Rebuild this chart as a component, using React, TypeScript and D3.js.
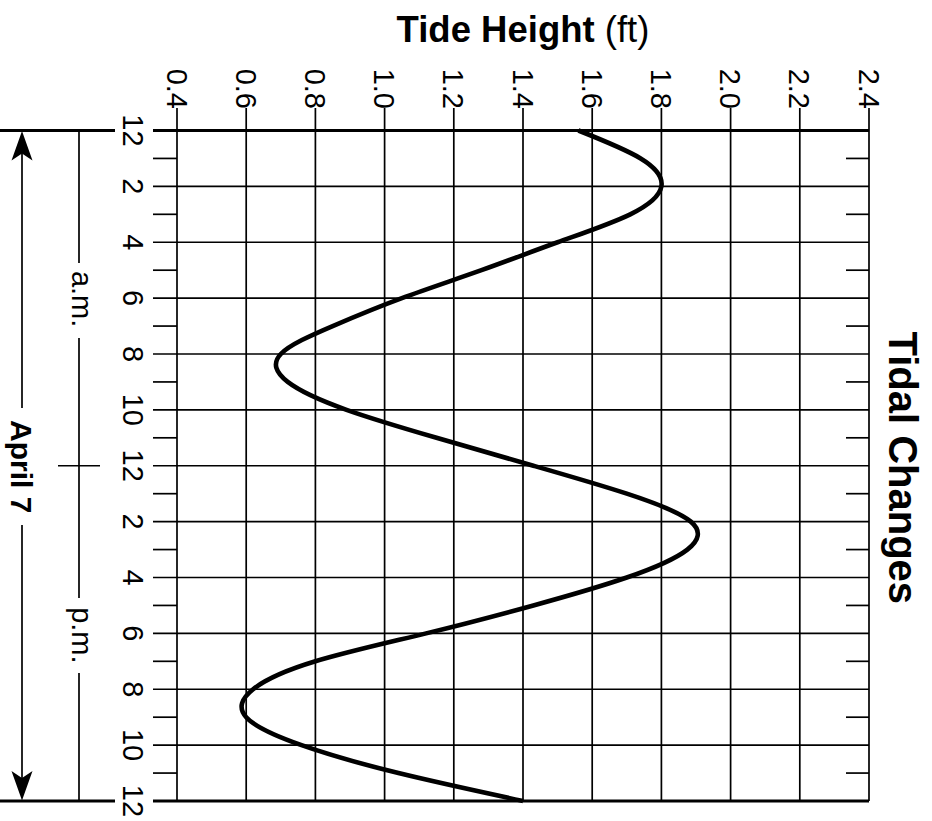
import React from "react";
import * as d3 from "d3";

// ---- data ----
const hours: number[] = [0, 1, 2, 3, 4, 5, 6, 7, 8, 9, 10, 11, 12, 13, 14, 15, 16, 17, 18, 19, 20, 21, 22, 23, 24];
const tideHeights: number[] = [1.56, 1.74, 1.8, 1.71, 1.5, 1.28, 1.05, 0.85, 0.7, 0.72, 0.89, 1.15, 1.43, 1.7, 1.885, 1.875, 1.7, 1.43, 1.12, 0.8, 0.62, 0.6, 0.76, 1.04, 1.4];
const heightTicks: number[] = [0.4, 0.6, 0.8, 1.0, 1.2, 1.4, 1.6, 1.8, 2.0, 2.2, 2.4];
const timeTickHours: number[] = [0, 2, 4, 6, 8, 10, 12, 14, 16, 18, 20, 22, 24];
const timeTickLabels: string[] = ["12", "2", "4", "6", "8", "10", "12", "2", "4", "6", "8", "10", "12"];
const chartTitle = "Tidal Changes";
const axisTitleBold = "Tide Height";
const axisTitleUnit = " (ft)";
const dateLabel = "April 7";
const amLabel = "a.m.";
const pmLabel = "p.m.";

const W = 932;
const H = 821;
const FONT = "'Liberation Sans', Arial, Helvetica, sans-serif";

export default function App() {
  const x = d3.scaleLinear().domain([0.4, 2.4]).range([177, 869]);
  const y = d3.scaleLinear().domain([0, 24]).range([130.5, 801]);

  const pts = hours.map((h, i) => ({ h: tideHeights[i], t: h }));
  const line = d3
    .line<{ h: number; t: number }>()
    .x((d) => x(d.h))
    .y((d) => y(d.t))
    .curve(d3.curveNatural);

  const left = x(0.4);
  const right = x(2.4);
  const tickLeft = 153;
  const tickTop = 108;
  const allHours = d3.range(0, 25);

  const labelFs = 29;
  const arrowX = 22;
  const ampmX = 79;
  const yTop = y(0);
  const yBot = y(24);
  const yNoon = y(12);

  const rot = (cx: number, cy: number) => `rotate(90 ${cx} ${cy})`;

  return (
    <svg width={W} height={H} style={{ position: "absolute", left: 0, top: 0, background: "#fff" }}>
      <rect x={0} y={0} width={W} height={H} fill="#fff" />
      {/* title top */}
      <text x={(left + right) / 2} y={42} textAnchor="middle" fontFamily={FONT} fontSize={36.5} fill="#000">
        <tspan fontWeight="bold">{axisTitleBold}</tspan>
        <tspan>{axisTitleUnit}</tspan>
      </text>
      {/* title right */}
      <text
        x={889}
        y={(yTop + yBot) / 2 + 2}
        transform={rot(889, (yTop + yBot) / 2 + 2)}
        textAnchor="middle"
        fontFamily={FONT}
        fontWeight="bold"
        fontSize={40}
        fill="#000"
      >
        {chartTitle}
      </text>

      {/* vertical grid lines + top ticks */}
      {heightTicks.map((v) => (
        <line key={"v" + v} x1={x(v)} x2={x(v)} y1={tickTop} y2={yBot} stroke="#000" strokeWidth={1.7} />
      ))}
      {/* height labels */}
      {heightTicks.map((v) => {
        const bx = x(v) - 0.358 * labelFs;
        return (
          <text
            key={"hl" + v}
            x={bx}
            y={tickTop + 1}
            transform={rot(bx, tickTop + 1)}
            textAnchor="end"
            fontFamily={FONT}
            fontSize={labelFs}
            fill="#000"
          >
            {v.toFixed(1)}
          </text>
        );
      })}

      {/* horizontal ticks and grid */}
      {allHours.map((h) => {
        const yy = y(h);
        if (h === 0 || h === 24) return null;
        if (h % 2 === 0) {
          return <line key={"h" + h} x1={tickLeft} x2={right} y1={yy} y2={yy} stroke="#000" strokeWidth={1.7} />;
        }
        return (
          <g key={"h" + h}>
            <line x1={tickLeft} x2={left} y1={yy} y2={yy} stroke="#000" strokeWidth={1.7} />
            <line x1={846} x2={right} y1={yy} y2={yy} stroke="#000" strokeWidth={1.7} />
          </g>
        );
      })}

      {/* thick top/bottom lines */}
      {[0, 24].map((h) => (
        <g key={"thick" + h}>
          <line x1={0} x2={115} y1={y(h)} y2={y(h)} stroke="#000" strokeWidth={3.2} />
          <line x1={tickLeft} x2={right} y1={y(h)} y2={y(h)} stroke="#000" strokeWidth={3.2} />
        </g>
      ))}

      {/* time labels */}
      {timeTickHours.map((h, i) => {
        const bx = 133 - 0.358 * labelFs;
        const yy = y(h);
        return (
          <text
            key={"tl" + i}
            x={bx}
            y={yy}
            transform={rot(bx, yy)}
            textAnchor="middle"
            fontFamily={FONT}
            fontSize={labelFs}
            fill="#000"
          >
            {timeTickLabels[i]}
          </text>
        );
      })}

      {/* April 7 arrow */}
      <line x1={arrowX} x2={arrowX} y1={yTop + 10} y2={408} stroke="#000" strokeWidth={1.7} />
      <line x1={arrowX} x2={arrowX} y1={525} y2={yBot - 10} stroke="#000" strokeWidth={1.7} />
      <path
        d={`M${arrowX},${yTop + 0.5} L${arrowX - 10.5},${yTop + 30} L${arrowX},${yTop + 23} L${arrowX + 10.5},${yTop + 30} Z`}
        fill="#000"
      />
      <path
        d={`M${arrowX},${yBot - 0.5} L${arrowX - 10.5},${yBot - 30} L${arrowX},${yBot - 23} L${arrowX + 10.5},${yBot - 30} Z`}
        fill="#000"
      />
      <text
        x={arrowX - 0.358 * 30}
        y={(yTop + yBot) / 2 + 1}
        transform={rot(arrowX - 0.358 * 30, (yTop + yBot) / 2 + 1)}
        textAnchor="middle"
        fontFamily={FONT}
        fontWeight="bold"
        fontSize={30}
        fill="#000"
      >
        {dateLabel}
      </text>

      {/* a.m. / p.m. bracket */}
      <line x1={ampmX} x2={ampmX} y1={yTop} y2={263} stroke="#000" strokeWidth={1.7} />
      <line x1={ampmX} x2={ampmX} y1={338} y2={598} stroke="#000" strokeWidth={1.7} />
      <line x1={ampmX} x2={ampmX} y1={673} y2={yBot} stroke="#000" strokeWidth={1.7} />
      <line x1={58} x2={100} y1={yNoon} y2={yNoon} stroke="#000" strokeWidth={1.7} />
      <text
        x={72}
        y={y(6) + 1}
        transform={rot(72, y(6) + 1)}
        textAnchor="middle"
        fontFamily={FONT}
        fontSize={29}
        fill="#000"
      >
        {amLabel}
      </text>
      <text
        x={72}
        y={y(18) + 2}
        transform={rot(72, y(18) + 2)}
        textAnchor="middle"
        fontFamily={FONT}
        fontSize={29}
        fill="#000"
      >
        {pmLabel}
      </text>

      {/* tide curve */}
      <path d={line(pts) ?? ""} fill="none" stroke="#000" strokeWidth={4.6} strokeLinecap="butt" />
    </svg>
  );
}
